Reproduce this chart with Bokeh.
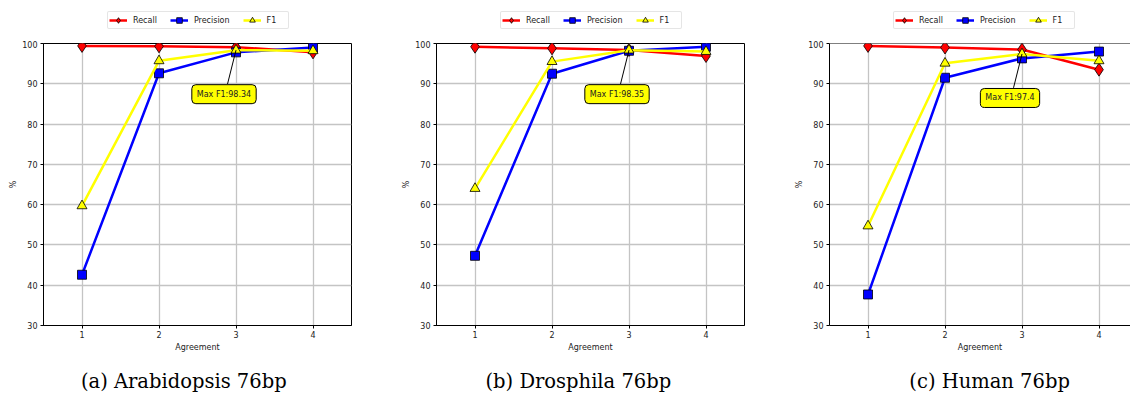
from bokeh.plotting import figure
from bokeh.layouts import row, column
from bokeh.models import (Legend, LegendItem, Label, Range1d, FixedTicker, Span)
from bokeh.embed import file_html
from bokeh.resources import INLINE

agreement = [1, 2, 3, 4]
y_ticks = [30, 40, 50, 60, 70, 80, 90, 100]

captions = ["(a) Arabidopsis 76bp", "(b) Drosphila 76bp", "(c) Human 76bp"]

recall_a = [99.4, 99.3, 99.1, 97.8]
precision_a = [42.6, 92.6, 97.8, 99.0]
f1_a = [59.7, 95.7, 98.34, 98.2]

recall_b = [99.2, 98.8, 98.4, 96.9]
precision_b = [47.3, 92.5, 98.2, 99.2]
f1_b = [64.0, 95.5, 98.35, 98.0]

recall_c = [99.4, 99.0, 98.5, 93.5]
precision_c = [37.7, 91.5, 96.3, 98.0]
f1_c = [54.7, 95.1, 97.4, 95.7]

max_labels = ["Max F1:98.34", "Max F1:98.35", "Max F1:97.4"]

FONT = "DejaVu Sans"
TOP_H = 40
BOT_H = 39


def strip(width, height, x0=0):
    s = figure(width=width, height=height, output_backend="svg", toolbar_location=None,
               x_range=Range1d(x0, x0 + width), y_range=Range1d(0, height),
               min_border=0, x_axis_type=None, y_axis_type=None)
    s.grid.visible = False
    s.outline_line_color = None
    s.background_fill_color = "white"
    s.border_fill_color = "white"
    return s


def add_series(p, recall, precision, f1):
    r_line = p.line(agreement, recall, line_color="red", line_width=2.5)
    r_pts = p.scatter(agreement, recall, marker="diamond", size=13, fill_color="red",
                      line_color="black", line_width=0.8)
    p_line = p.line(agreement, precision, line_color="blue", line_width=2.5)
    p_pts = p.scatter(agreement, precision, marker="square", size=9, fill_color="blue",
                      line_color="black", line_width=0.8)
    f_line = p.line(agreement, f1, line_color="yellow", line_width=2.5)
    f_pts = p.scatter(agreement, f1, marker="triangle", size=10, fill_color="yellow",
                      line_color="black", line_width=0.8)
    return (r_line, r_pts), (p_line, p_pts), (f_line, f_pts)


def panel(recall, precision, f1, caption, max_label, width, frame_w, clipped, cap_x):
    x_end = 0.5 + 4.0 * frame_w / 308.0

    # ---- legend strip (above the axes) ----
    # its x range starts far to the right of the series, so they only feed the legend
    top = strip(width, TOP_H, x0=200)
    rr, pp, ff = add_series(top, recall, precision, f1)
    legend = Legend(items=[
        LegendItem(label="Recall", renderers=list(rr)),
        LegendItem(label="Precision", renderers=list(pp)),
        LegendItem(label="F1", renderers=list(ff)),
    ], orientation="horizontal", location=(64, 11))
    legend.label_text_font = FONT
    legend.label_text_font_size = "8px"
    legend.label_text_color = "#222222"
    legend.glyph_width = 18
    legend.glyph_height = 14
    legend.label_standoff = 6
    legend.spacing = 13
    legend.padding = 1
    legend.margin = 0
    legend.label_height = 10
    legend.border_line_color = "#cccccc"
    legend.border_line_width = 1
    legend.border_radius = 2
    legend.background_fill_color = "white"
    legend.background_fill_alpha = 1.0
    top.add_layout(legend)

    # ---- main axes ----
    p = figure(frame_width=frame_w, frame_height=282, output_backend="svg",
               toolbar_location=None,
               x_range=Range1d(0.5, x_end), y_range=Range1d(30, 100),
               min_border_left=43, min_border_right=width - 43 - frame_w,
               min_border_top=3, min_border_bottom=30)
    p.background_fill_color = "white"
    p.border_fill_color = "white"
    if clipped:
        p.outline_line_color = None
        p.add_layout(Span(location=100, dimension="width", line_color="black", line_width=1))
    else:
        p.outline_line_color = "black"
        p.outline_line_width = 1

    for ax in (p.xaxis[0], p.yaxis[0]):
        ax.axis_line_color = "black"
        ax.major_tick_line_color = "black"
        ax.major_tick_out = 3
        ax.major_tick_in = 0
        ax.minor_tick_line_color = None
        ax.major_label_text_font = FONT
        ax.major_label_text_font_size = "8px"
        ax.major_label_text_color = "#222222"
        ax.axis_label_text_font = FONT
        ax.axis_label_text_font_size = "8px"
        ax.axis_label_text_font_style = "normal"
        ax.axis_label_text_color = "#222222"
    p.xaxis.ticker = FixedTicker(ticks=agreement)
    p.yaxis.ticker = FixedTicker(ticks=y_ticks)
    p.xaxis.axis_label = "Agreement"
    p.yaxis.axis_label = "%"
    p.xaxis.major_label_standoff = 2
    p.xaxis.axis_label_standoff = 2
    p.yaxis.major_label_standoff = 3
    p.yaxis.axis_label_standoff = 1
    p.grid.grid_line_color = "#c4c4c4"
    p.grid.grid_line_width = 1.3

    add_series(p, recall, precision, f1)

    # annotation for the maximum F1
    i = max(range(len(f1)), key=lambda k: f1[k])
    xm, ym = agreement[i], f1[i]
    p.segment(x0=[xm], y0=[ym], x1=[xm - 0.11], y1=[ym - 8.4],
              line_color="black", line_width=1)
    lab = Label(x=xm, y=ym, x_offset=-12, y_offset=-44, text=max_label,
                text_align="center", text_baseline="middle",
                text_font=FONT, text_font_size="8px", text_color="#222222",
                background_fill_color="yellow", border_line_color="black",
                border_line_width=1, padding=5, border_radius=4)
    p.add_layout(lab)

    # ---- caption strip ----
    bot = strip(width, BOT_H)
    cap = Label(x=cap_x, y=13, text=caption,
                text_align="center", text_baseline="middle",
                text_font="DejaVu Serif", text_font_size="19.5px", text_color="black")
    bot.add_layout(cap)
    return column(top, p, bot, spacing=0)


c1 = panel(recall_a, precision_a, f1_a, captions[0], max_labels[0], 393, 308, False, 179)
c2 = panel(recall_b, precision_b, f1_b, captions[1], max_labels[1], 393, 308, False, 181)
c3 = panel(recall_c, precision_c, f1_c, captions[2], max_labels[2], 344, 301, True, 183)

layout = row(c1, c2, c3, spacing=0)
open("out.html", "w").write(file_html(layout, INLINE))
